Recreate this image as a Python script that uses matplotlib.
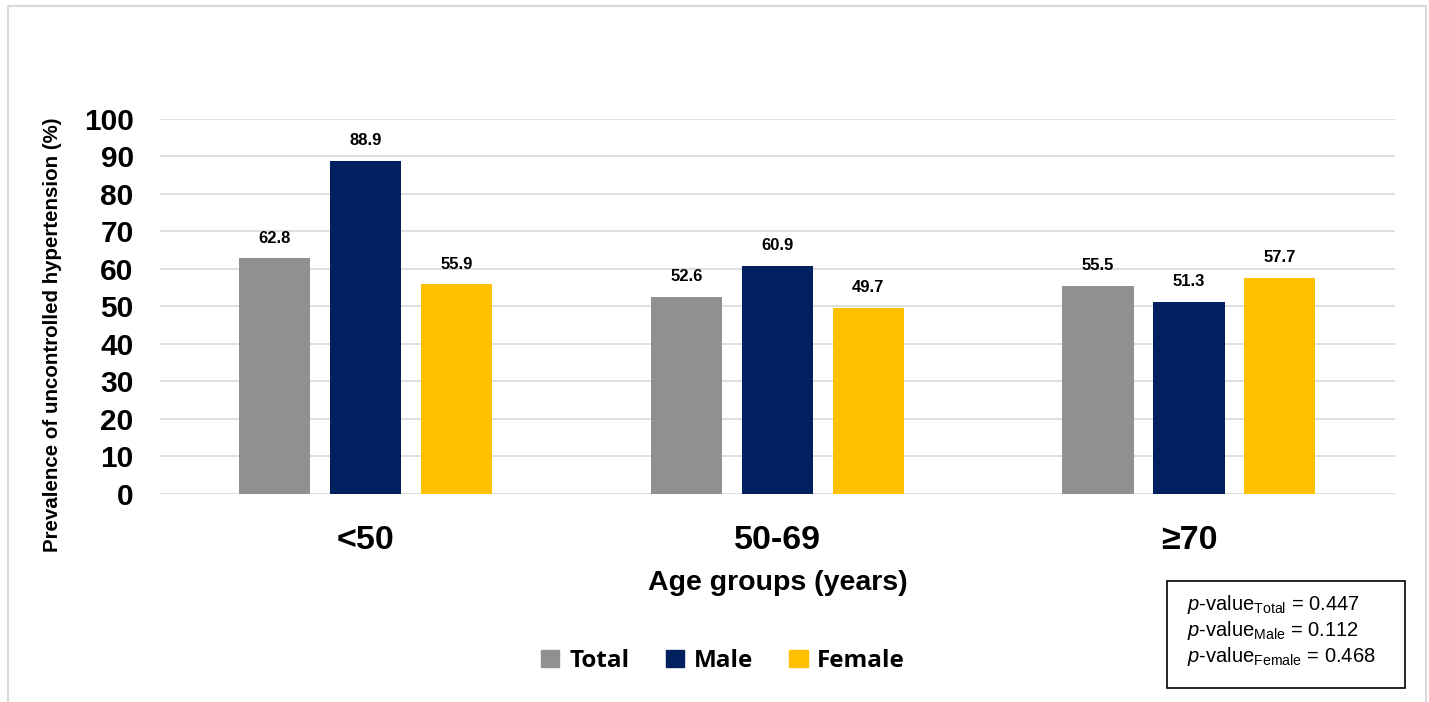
import matplotlib
matplotlib.use("Agg")
import matplotlib.pyplot as plt
from matplotlib.patches import Rectangle
from matplotlib.lines import Line2D
import numpy as np

groups = ["<50", "50-69", "≥70"]
total = [62.8, 52.6, 55.5]
male = [88.9, 60.9, 51.3]
female = [55.9, 49.7, 57.7]
series_names = ["Total", "Male", "Female"]
colors = ["#909090", "#002060", "#FFC000"]
yticks = [0, 10, 20, 30, 40, 50, 60, 70, 80, 90, 100]
pvalues = [("Total", "0.447"), ("Male", "0.112"), ("Female", "0.468")]

plt.rcParams["font.family"] = ["Liberation Sans", "DejaVu Sans"]
plt.rcParams["mathtext.fontset"] = "custom"
plt.rcParams["mathtext.rm"] = "Liberation Sans"
plt.rcParams["mathtext.it"] = "Liberation Sans:italic"

fig = plt.figure(figsize=(14.29, 7.02), dpi=100)
ax = fig.add_axes([0.112, 0.2963, 0.864, 0.5342])

x = np.arange(len(groups))
width = 0.173
step = 0.221
for i, (vals, name, c) in enumerate(zip([total, male, female], series_names, colors)):
    pos = x + (i - 1) * step
    bars = ax.bar(pos, vals, width, color=c, label=name, zorder=3)
    for b, v in zip(bars, vals):
        ax.annotate(f"{v:.1f}", (b.get_x() + b.get_width() / 2, v),
                    xytext=(0, 9), textcoords="offset points",
                    ha="center", va="bottom", fontsize=12, fontweight="bold")

ax.set_xlim(-0.5, 2.5)
ax.set_ylim(0, 100)
ax.set_yticks(yticks)
ax.set_yticklabels([str(t) for t in yticks], fontsize=21.5, fontweight="bold")
ax.set_xticks(x)
ax.set_xticklabels(groups, fontsize=24.5, fontweight="bold")
ax.tick_params(axis="y", length=0, pad=19)
ax.tick_params(axis="x", length=0, pad=22)
ax.grid(axis="y", color="#d9d9d9", linewidth=1.2, zorder=0)
ax.set_axisbelow(True)
for s in ax.spines.values():
    s.set_visible(False)

fig.text(0.037, 0.523, "Prevalence of uncontrolled hypertension (%)", rotation=90,
         ha="center", va="center", fontsize=14.8, fontweight="bold")
fig.text(0.544, 1 - 583 / 702, "Age groups (years)", ha="center", va="center",
         fontsize=20.5, fontweight="bold")

handles = [Rectangle((0, 0), 1, 1, color=c) for c in colors]
fig.legend(handles, series_names, loc="center", bbox_to_anchor=(0.506, 1 - 661 / 702),
           ncol=3, frameon=False, handlelength=0.75, handleheight=0.75,
           handletextpad=0.4, columnspacing=1.5,
           prop={"family": "Open Sans", "weight": "bold", "size": 17.5})

# p-value box
fig.add_artist(Rectangle((1167 / 1429, 1 - 688 / 702), 238 / 1429, 107 / 702,
                         transform=fig.transFigure, fill=False, edgecolor="black",
                         linewidth=1.2))
for k, (lab, pv) in enumerate(pvalues):
    fig.text(1187 / 1429, 1 - (605 + 26 * k) / 702,
             r"$p$-value$_{\mathrm{" + lab + r"}}$ = " + pv,
             ha="left", va="center", fontsize=14.5)

# outer light border
bx0, bx1, by1 = 8 / 1429, 1426 / 1429, 1 - 6 / 702
fig.add_artist(Line2D([bx0, bx0, bx1, bx1], [0, by1, by1, 0],
                      transform=fig.transFigure, color="#d9d9d9", linewidth=1.5))

fig.savefig("out.png", dpi=100)
